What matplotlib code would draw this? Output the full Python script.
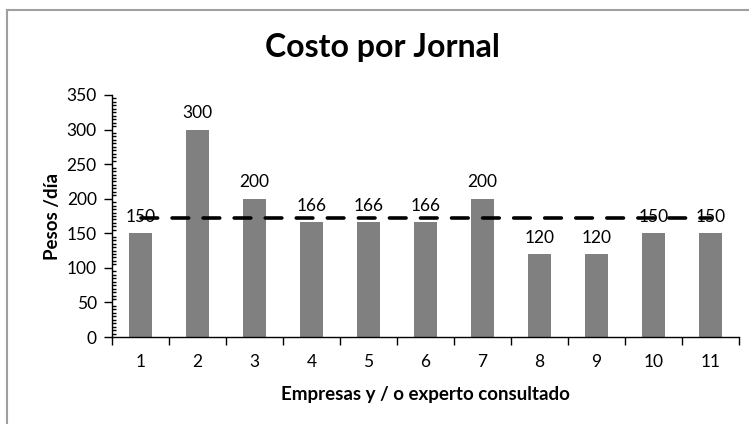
import matplotlib
matplotlib.use("Agg")
import matplotlib.pyplot as plt
from matplotlib.lines import Line2D
from matplotlib.ticker import MultipleLocator, FixedLocator, NullFormatter, FixedFormatter
import numpy as np

plt.rcParams['font.family'] = ['Lato', 'DejaVu Sans']

categories = ['1', '2', '3', '4', '5', '6', '7', '8', '9', '10', '11']
values = [150, 300, 200, 166, 166, 166, 200, 120, 120, 150, 150]
title = 'Costo por Jornal'
xlabel = 'Empresas y / o experto consultado'
ylabel = 'Pesos /día'

W, H = 749, 424
fig = plt.figure(figsize=(W / 100, H / 100), dpi=100)
fig.patch.set_facecolor('white')

ax = fig.add_axes([112 / W, (H - 337) / H, (739 - 112) / W, (337 - 95) / H])
x = np.arange(1, len(values) + 1)
ax.bar(x, values, width=0.4, color='#808080', zorder=2)

mean_val = np.mean(values)
ax.plot([x[0], x[-1]], [mean_val, mean_val], color='black', lw=2.6,
        dashes=(4.6, 4.0), dash_capstyle='round', zorder=3)

for xi, v in zip(x, values):
    ax.annotate(str(v), (xi, v), xytext=(0, 6), textcoords='offset points',
                ha='center', va='bottom', fontsize=12.5, color='black', zorder=4)

ax.set_xlim(0.5, len(values) + 0.5)
ax.set_ylim(0, 350)
ax.yaxis.set_major_locator(MultipleLocator(50))
ax.yaxis.set_minor_locator(MultipleLocator(5))
ax.xaxis.set_major_locator(FixedLocator(np.arange(0.5, len(values) + 1, 1)))
ax.xaxis.set_major_formatter(NullFormatter())
ax.xaxis.set_minor_locator(FixedLocator(x))
ax.xaxis.set_minor_formatter(FixedFormatter(categories))

for s in ['top', 'right']:
    ax.spines[s].set_visible(False)
for s in ['left', 'bottom']:
    ax.spines[s].set_color('black')
    ax.spines[s].set_linewidth(1.0)

ax.tick_params(axis='y', which='major', direction='out', length=6, width=1, labelsize=12.5, pad=5)
ax.tick_params(axis='y', which='minor', direction='in', length=3, width=1)
ax.tick_params(axis='x', which='major', direction='out', length=6, width=1)
ax.tick_params(axis='x', which='minor', direction='in', length=3, width=1, labelsize=12.5, pad=12)

ax.set_xlabel(xlabel, fontsize=13.5, fontweight='bold', labelpad=12)
ax.set_ylabel(ylabel, fontsize=13.5, fontweight='bold', labelpad=4)

fig.text(382 / W, (H - 48) / H, title, ha='center', va='center', fontsize=23, fontweight='bold')

# outer chart frame (gray)
fig.add_artist(Line2D([6.5 / W, 1], [(H - 9.5) / H, (H - 9.5) / H], transform=fig.transFigure, color='#a0a0a0', lw=1.5))
fig.add_artist(Line2D([6.5 / W, 6.5 / W], [0, (H - 9.5) / H], transform=fig.transFigure, color='#a0a0a0', lw=1.5))

fig.savefig('out.png', dpi=100)
